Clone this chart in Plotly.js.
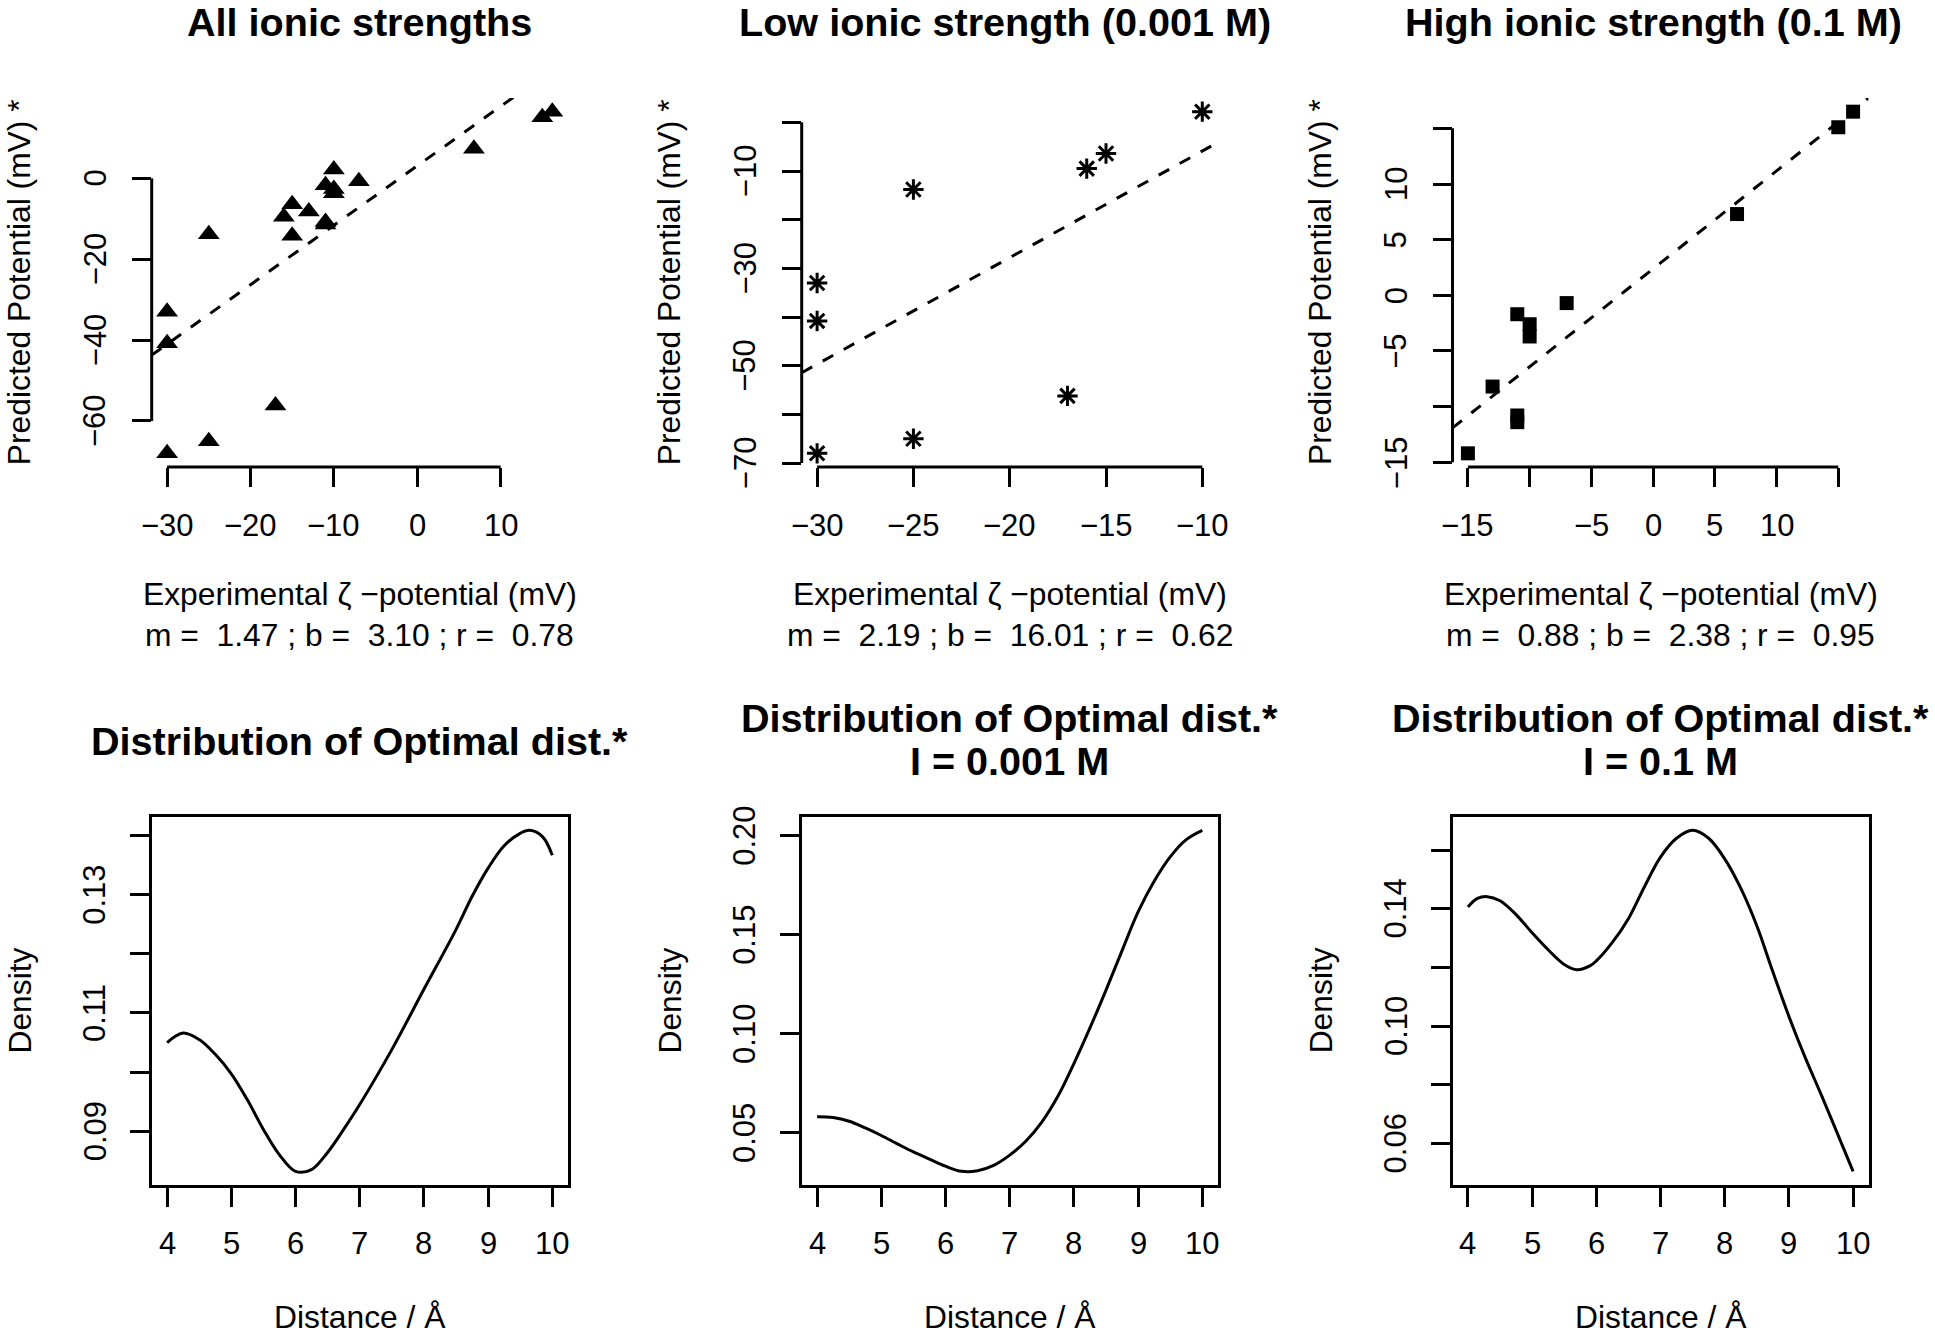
<!DOCTYPE html>
<html><head><meta charset="utf-8">
<script src="https://cdn.plot.ly/plotly-3.0.1.min.js"></script>
<style>html,body{margin:0;padding:0;background:#fff}</style>
</head><body><div id="chart" style="width:1935px;height:1336px"></div>
<script>
// ---------------- data ----------------
// Low ionic strength (0.001 M): experimental vs predicted potential (mV)
const lowX = [-30, -30, -30, -25, -25, -17, -16, -15, -10];
const lowY = [-33.0, -40.8, -68.0, -13.8, -65.0, -56.2, -9.5, -6.4, 2.2];
// High ionic strength (0.1 M)
const highX = [-15, -13, -11, -11, -11, -10, -10, -7, 6.8, 15, 16.2];
const highY = [-14.2, -8.2, -10.8, -11.4, -1.7, -2.6, -3.7, -0.7, 7.3, 15.1, 16.5];
// All ionic strengths
const allX = lowX.concat(highX);
const allY = lowY.concat(highY);
// regression stats (all, low, high)
const fitM = [1.47, 2.19, 0.88];
const fitB = [3.10, 16.01, 2.38];
const fitR = [0.78, 0.62, 0.95];
// density curves of optimal distance
const densAllX = [4, 4.25, 4.5, 4.75, 5, 5.25, 5.5, 5.75, 6, 6.25, 6.5, 6.75, 7, 7.5, 8, 8.5, 8.75, 9, 9.25, 9.5, 9.65, 9.85, 10];
const densAllY = [0.1050, 0.1066, 0.1055, 0.1030, 0.0997, 0.0953, 0.0903, 0.0860, 0.0832, 0.0835, 0.0864, 0.0903, 0.0945, 0.1038, 0.1140, 0.1241, 0.1297, 0.1345, 0.1383, 0.1404, 0.1409, 0.1398, 0.1367];
const densLowX = [4, 4.25, 4.5, 4.75, 5, 5.25, 5.5, 5.75, 6, 6.25, 6.5, 6.75, 7, 7.25, 7.5, 7.75, 8, 8.25, 8.5, 8.75, 9, 9.25, 9.5, 9.75, 10];
const densLowY = [0.0582, 0.0578, 0.0559, 0.0525, 0.0487, 0.0445, 0.0404, 0.0368, 0.0332, 0.0306, 0.0309, 0.0336, 0.0388, 0.0458, 0.0555, 0.0685, 0.0850, 0.1030, 0.1221, 0.1420, 0.1615, 0.1770, 0.1893, 0.1980, 0.2027];
const densHighX = [4, 4.15, 4.3, 4.5, 4.75, 5, 5.25, 5.5, 5.7, 5.9, 6, 6.25, 6.5, 6.75, 7, 7.25, 7.5, 7.75, 8, 8.25, 8.5, 8.75, 9, 9.25, 9.5, 9.75, 10];
const densHighY = [0.1406, 0.1435, 0.1441, 0.1427, 0.1380, 0.1318, 0.1260, 0.1210, 0.1192, 0.1205, 0.1222, 0.1285, 0.1366, 0.1475, 0.1576, 0.1640, 0.1667, 0.1640, 0.1570, 0.1470, 0.1342, 0.1185, 0.1033, 0.0895, 0.0768, 0.0637, 0.0505];

// tick values / labels (an empty label = tick drawn without a label, as in the original)
const tick1X = [-30, -20, -10, 0, 10];
const tick1XText = ['\u221230', '\u221220', '\u221210', '0', '10'];
const tick1Y = [-60, -40, -20, 0];
const tick1YText = ['\u221260', '\u221240', '\u221220', '0'];
const tick2X = [-30, -25, -20, -15, -10];
const tick2XText = ['\u221230', '\u221225', '\u221220', '\u221215', '\u221210'];
const tick2Y = [-70, -60, -50, -40, -30, -20, -10, 0];
const tick2YText = ['\u221270', '', '\u221250', '', '\u221230', '', '\u221210', ''];
const tick3X = [-15, -10, -5, 0, 5, 10, 15];
const tick3XText = ['\u221215', '', '\u22125', '0', '5', '10', ''];
const tick3Y = [-15, -10, -5, 0, 5, 10, 15];
const tick3YText = ['\u221215', '', '\u22125', '0', '5', '10', ''];
const tickDistX = [4, 5, 6, 7, 8, 9, 10];
const tickDistXText = ['4', '5', '6', '7', '8', '9', '10'];
const tick4Y = [0.09, 0.10, 0.11, 0.12, 0.13, 0.14];
const tick4YText = ['0.09', '', '0.11', '', '0.13', ''];
const tick5Y = [0.05, 0.10, 0.15, 0.20];
const tick5YText = ['0.05', '0.10', '0.15', '0.20'];
const tick6Y = [0.06, 0.08, 0.10, 0.12, 0.14, 0.16];
const tick6YText = ['0.06', '', '0.10', '', '0.14', ''];

const topTitles = ['All ionic strengths', 'Low ionic strength (0.001 M)', 'High ionic strength (0.1 M)'];
const bottomTitle = 'Distribution of Optimal dist.*';
const bottomSub = ['', 'I = 0.001 M', 'I = 0.1 M'];
const xLabelTop = 'Experimental \u03b6 \u2212potential (mV)';
const yLabelTop = 'Predicted Potential (mV) *';
const xLabelBottom = 'Distance / \u00c5';
const yLabelBottom = 'Density';

// ---------------- layout helpers ----------------
const W = 1935, H = 1336;
const FONT = 'Liberation Sans, Arial, Helvetica, sans-serif';
const plotLeft = [151.7, 801.7, 1452.5];
const plotW = 416;
const topRow = [98, 467];
const botRow = [816.7, 1185];
const topTitleShift = [0, -5, -7];
const XLAB_OFF = 58.6;   // tick-label centre below the x axis line (R: mgp line 1)
const YLAB_OFF = 56.6;   // tick-label centre left of the y axis line
const TICK_SIZE = 31;
const px = v => v / W;
const py = v => 1 - v / H;
function padRange(arr) {
  const mn = Math.min(...arr), mx = Math.max(...arr), d = (mx - mn) * 0.04;
  return [mn - d, mx + d];
}

const traces = [];
const layout = {
  width: W, height: H, margin: {l: 0, r: 0, t: 0, b: 0},
  paper_bgcolor: '#fff', plot_bgcolor: '#fff', showlegend: false,
  font: {family: FONT, color: '#000'},
  shapes: [], annotations: []
};

function baseAxis(extra) {
  return Object.assign({
    showgrid: false, zeroline: false, ticks: 'outside', ticklen: 19, tickwidth: 3,
    tickcolor: '#000', tickmode: 'array', showticklabels: false, fixedrange: true
  }, extra);
}
function ann(text, x, y, size, opts) {
  layout.annotations.push(Object.assign({
    text: text, x: px(x), y: py(y), xref: 'paper', yref: 'paper', showarrow: false,
    xanchor: 'center', yanchor: 'middle',
    font: {family: FONT, size: size, color: '#000'}
  }, opts || {}));
}
// R-style tick labels, placed on the axis scale (x labels horizontal, y labels parallel to the axis)
function tickLabels(s, xt, xtt, yt, ytt, axisYpx, axisXpx) {
  xt.forEach((v, k) => {
    if (!xtt[k]) return;
    layout.annotations.push({text: xtt[k], x: v, xref: 'x' + s, y: py(axisYpx + XLAB_OFF), yref: 'paper',
      showarrow: false, xanchor: 'center', yanchor: 'middle', font: {family: FONT, size: TICK_SIZE, color: '#000'}});
  });
  yt.forEach((v, k) => {
    if (!ytt[k]) return;
    layout.annotations.push({text: ytt[k], y: v, yref: 'y' + s, x: px(axisXpx - YLAB_OFF), xref: 'paper',
      textangle: -90, showarrow: false, xanchor: 'center', yanchor: 'middle', font: {family: FONT, size: TICK_SIZE, color: '#000'}});
  });
}

// ---------------- top row: scatter plots ----------------
const topPanels = [
  {x: allX, y: allY, sym: 'triangle-up', size: 19, lw: 0, xt: tick1X, xtt: tick1XText, yt: tick1Y, ytt: tick1YText},
  {x: lowX, y: lowY, sym: 'asterisk-open', size: 17, lw: 3, xt: tick2X, xtt: tick2XText, yt: tick2Y, ytt: tick2YText},
  {x: highX, y: highY, sym: 'square', size: 14, lw: 0, xt: tick3X, xtt: tick3XText, yt: tick3Y, ytt: tick3YText}
];
topPanels.forEach((p, i) => {
  const s = i === 0 ? '' : String(i + 1);
  const xr = padRange(p.x), yr = padRange(p.y);
  traces.push({
    type: 'scatter', mode: 'lines', x: xr, y: xr.map(v => fitM[i] * v + fitB[i]),
    xaxis: 'x' + s, yaxis: 'y' + s, hoverinfo: 'skip',
    line: {color: '#000', width: 3, dash: '12px,12px'}
  });
  traces.push({
    type: 'scatter', mode: 'markers', x: p.x, y: p.y, xaxis: 'x' + s, yaxis: 'y' + s,
    cliponaxis: false,
    marker: {symbol: p.sym, size: p.size, color: '#000', line: {width: p.lw, color: '#000'}}
  });
  layout['xaxis' + s] = baseAxis({
    domain: [px(plotLeft[i]), px(plotLeft[i] + plotW)], anchor: 'y' + s, range: xr,
    showline: false, tickvals: p.xt
  });
  layout['yaxis' + s] = baseAxis({
    domain: [py(topRow[1]), py(topRow[0])], anchor: 'x' + s, range: yr,
    showline: false, tickvals: p.yt
  });
  // R-style axis lines spanning first to last tick
  layout.shapes.push({type: 'line', xref: 'x' + s, yref: 'y' + s + ' domain',
    x0: p.xt[0], x1: p.xt[p.xt.length - 1], y0: 0, y1: 0, line: {color: '#000', width: 3}});
  layout.shapes.push({type: 'line', xref: 'x' + s + ' domain', yref: 'y' + s,
    x0: 0, x1: 0, y0: p.yt[0], y1: p.yt[p.yt.length - 1], line: {color: '#000', width: 3}});
  tickLabels(s, p.xt, p.xtt, p.yt, p.ytt, topRow[1], plotLeft[i]);
  const cx = plotLeft[i] + plotW / 2;
  ann(topTitles[i], cx + topTitleShift[i], 22.2, 39.6, {font: {family: FONT, size: 39.6, color: '#000', weight: 'bold'}});
  const stats = 'm = \u00a0' + fitM[i].toFixed(2) + ' ; b = \u00a0' + fitB[i].toFixed(2) + ' ; r = \u00a0' + fitR[i].toFixed(2);
  ann(xLabelTop, cx, 594, 31.8);
  ann(stats, cx, 635, 31.8);
  ann(yLabelTop, plotLeft[i] - 132, (topRow[0] + topRow[1]) / 2, 31.8, {textangle: -90});
});

// ---------------- bottom row: density curves ----------------
const botPanels = [
  {x: densAllX, y: densAllY, yt: tick4Y, ytt: tick4YText},
  {x: densLowX, y: densLowY, yt: tick5Y, ytt: tick5YText},
  {x: densHighX, y: densHighY, yt: tick6Y, ytt: tick6YText}
];
botPanels.forEach((p, i) => {
  const s = String(i + 4);
  const xr = padRange(p.x), yr = padRange(p.y);
  traces.push({
    type: 'scatter', mode: 'lines', x: p.x, y: p.y, xaxis: 'x' + s, yaxis: 'y' + s,
    line: {color: '#000', width: 3, shape: 'spline', smoothing: 1}
  });
  layout['xaxis' + s] = baseAxis({
    domain: [px(plotLeft[i]), px(plotLeft[i] + plotW)], anchor: 'y' + s, range: xr,
    showline: true, mirror: true, linewidth: 3, linecolor: '#000', tickvals: tickDistX
  });
  layout['yaxis' + s] = baseAxis({
    domain: [py(botRow[1]), py(botRow[0])], anchor: 'x' + s, range: yr,
    showline: true, mirror: true, linewidth: 3, linecolor: '#000', tickvals: p.yt
  });
  tickLabels(s, tickDistX, tickDistXText, p.yt, p.ytt, botRow[1], plotLeft[i]);
  const cx = plotLeft[i] + plotW / 2;
  const tf = {family: FONT, size: 39.6, color: '#000', weight: 'bold'};
  if (bottomSub[i]) {
    ann(bottomTitle, cx, 717.5, 39.6, {font: tf});
    ann(bottomSub[i], cx, 760.5, 39.6, {font: tf});
  } else {
    ann(bottomTitle, cx, 740.5, 39.6, {font: tf});
  }
  ann(xLabelBottom, cx, 1317, 31.8);
  ann(yLabelBottom, plotLeft[i] - 132, (botRow[0] + botRow[1]) / 2, 31.8, {textangle: -90});
});

Plotly.newPlot('chart', traces, layout, {displayModeBar: false, staticPlot: true});
</script>
</body></html>
